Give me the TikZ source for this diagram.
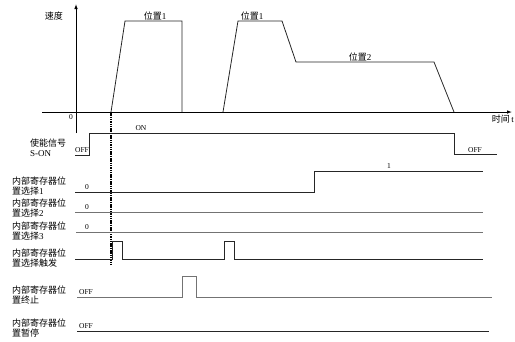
\documentclass[tikz,border=0pt]{standalone}
\usepackage{fontspec}
\setmainfont{Liberation Serif}
\newfontfamily\cjk{Noto Sans CJK SC}
\usetikzlibrary{arrows.meta}
\begin{document}
\begin{tikzpicture}[x=1pt,y=-1pt,
  sig/.style={line width=0.8pt,black!85},
  sigg/.style={line width=0.8pt,black!55},
  axis/.style={line width=0.9pt,-{Latex[length=5pt,width=3.6pt]}},
  lbl/.style={font=\cjk\fontsize{9}{10}\selectfont, align=left, anchor=west, inner sep=0pt},
  cjklbl/.style={font=\cjk\fontsize{9}{10}\selectfont, inner sep=0pt},
  val/.style={font=\fontsize{7.5}{8}\selectfont, inner sep=0pt}]
\useasboundingbox (0,0) rectangle (515,341);
% axes
\coordinate (ybot) at (76,133);
\coordinate (ytop) at (76,4);
\coordinate (xl) at (42,112);
\coordinate (xr) at (512,112);
\draw[axis] (ybot) -- (ytop);
\draw[axis] (xl) -- (xr);
\node[cjklbl] (vlab) at (54,16) {速度};
\node[cjklbl,anchor=east] (tlab) at (514,119) {时间{\rmfamily\,t}};
\node[val] (zero) at (71,117) {0};
% speed profile
\draw[sig] (111,112) -- (125,21) -- (182,21) -- (182,112);
\draw[sig] (223,112) -- (238,21) -- (282,21) -- (296,62) -- (434,62) -- (454,112);
\node[cjklbl] (p1a) at (155,16) {位置{\rmfamily 1}};
\node[cjklbl] (p1b) at (252,16) {位置{\rmfamily 1}};
\node[cjklbl] (p2) at (360,57) {位置{\rmfamily 2}};
% dashed marker
\coordinate (dtop) at (111,112);
\coordinate (dbot) at (111,264);
\draw[line width=1.1pt,dash pattern=on 1.5pt off 0.8pt] (dtop) -- (dbot);
% S-ON
\draw[sig] (75,155) -- (89,155) -- (89,133) -- (454,133) -- (454,154) -- (497,154);
\node[lbl] (lson) at (30,148) {使能信号\\{\rmfamily S-ON}};
\node[val] (off1) at (82,150) {OFF};
\node[val] (on1) at (141,128) {ON};
\node[val] (off2) at (475,150) {OFF};
% select 1
\draw[sig] (75,192) -- (314,192) -- (314,171) -- (483,171);
\node[lbl] (ls1) at (12,186.5) {内部寄存器位\\置选择{\rmfamily 1}};
\node[val] (z1) at (87,187) {0};
\node[val] (one) at (389,166) {1};
% select 2
\draw[sigg] (75,212) -- (483,212);
\node[lbl] (ls2) at (12,208) {内部寄存器位\\置选择{\rmfamily 2}};
\node[val] (z2) at (87,207.5) {0};
% select 3
\draw[sigg] (76,232) -- (483,232);
\node[lbl] (ls3) at (12,231.5) {内部寄存器位\\置选择{\rmfamily 3}};
\node[val] (z3) at (87,227.5) {0};
% trigger
\draw[sig] (75,259) -- (112,259) -- (112,241) -- (122,241) -- (122,259) -- (224,259) -- (224,241) -- (234,241) -- (234,259) -- (483,259);
\node[lbl] (ltr) at (12,258) {内部寄存器位\\置选择触发};
% stop
\draw[sigg] (77,297) -- (182,297) -- (182,276) -- (196,276) -- (196,297) -- (492,297);
\node[lbl] (lst) at (12,295.5) {内部寄存器位\\置终止};
\node[val] (off3) at (86,292) {OFF};
% pause
\draw[sig] (77,331) -- (489,331);
\node[lbl] (lpa) at (12,328.5) {内部寄存器位\\置暂停};
\node[val] (off4) at (86,326) {OFF};
\end{tikzpicture}
\end{document}
